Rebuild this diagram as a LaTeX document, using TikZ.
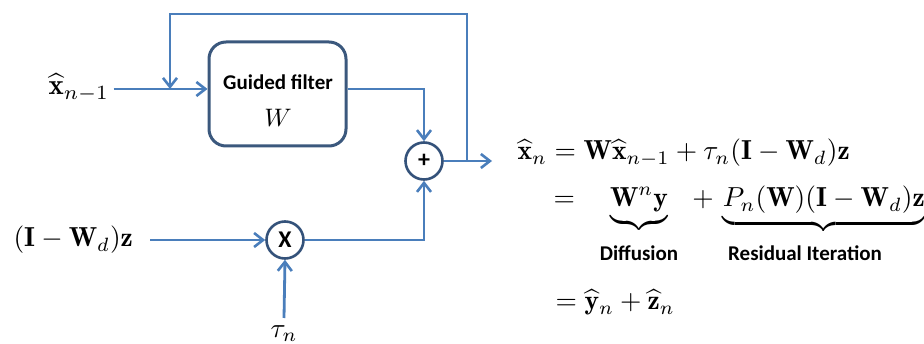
\documentclass[tikz,border=0pt]{standalone}
\usepackage{amsmath}
\usepackage{fontspec}
\newfontfamily\carl{Carlito}
\usetikzlibrary{arrows.meta}
\definecolor{lineblue}{RGB}{74,126,187}
\definecolor{boxcol}{RGB}{59,88,125}
\definecolor{circcol}{RGB}{52,82,122}
\begin{document}
\begin{tikzpicture}[x=1pt,y=-1pt,
  flow/.style={draw=lineblue, line width=2.8pt, -{Straight Barb[length=9pt,width=14pt,line width=2.6pt]}},
  filterbox/.style={draw=boxcol, line width=3pt, rounded corners=17pt, minimum width=137pt, minimum height=104pt, inner sep=0pt},
  op/.style={circle, draw=circcol, line width=2.6pt, minimum size=37pt, inner sep=0pt, font=\carl\bfseries\fontsize{24}{26}\selectfont},
  mth/.style={inner sep=0pt, scale=2.75, transform shape},
  lab/.style={inner sep=0pt, font=\carl\bfseries\fontsize{21}{25}\selectfont}
]
\useasboundingbox (0,0) rectangle (924,344);

% block diagram
\node[filterbox] (gf) at (277.5,94) {};
\node[lab] (gft) at (278,82) {Guided filter};
\node[mth, scale=0.92] (wlab) at (278,118) {$W$};
\node[op] (plus) at (424,161) {+};
\node[op] (times) at (285,240) {X};

\node[mth, scale=1.05, anchor=base west] (xin) at (48,95) {$\widehat{\mathbf{x}}_{n-1}$};
\node[mth, anchor=base west] (zin) at (13,247) {$(\mathbf{I}-\mathbf{W}_d)\mathbf{z}$};
\node[mth, anchor=north] (tau) at (284,325) {$\tau_n$};

\coordinate (inY) at (0,89);
\coordinate (fb) at (170,89);
\coordinate (topY) at (0,14);
\coordinate (j) at (467,161);
\coordinate (out) at (492,161);

\draw[flow] ([xshift=4pt]xin.east |- inY) -- (gf.west |- inY);
\draw[flow] (j) |- (fb |- topY) -- (fb);
\draw[flow] (gf.east |- inY) -| (plus.north);
\draw[flow] (plus.east) -- (out);
\draw[flow] ([xshift=17pt]zin.east |- times.west) -- (times.west);
\draw[flow] (times.east) -| (plus.south);
\draw[flow] ([yshift=7pt]tau.north) -- (times.south);

% equations
\node[mth, anchor=base west] (eq1) at (517,160) {$\widehat{\mathbf{x}}_n=\mathbf{W}\widehat{\mathbf{x}}_{n-1}+\tau_n(\mathbf{I}-\mathbf{W}_d)\mathbf{z}$};
\node[mth, anchor=base west] (eq2) at (553,207) {$=\mkern18mu\underbrace{\mathbf{W}^n\mathbf{y}}\mkern13mu{+}\mkern3mu\underbrace{P_n(\mathbf{W})(\mathbf{I}-\mathbf{W}_d)\mathbf{z}}$};
\node[lab] (diff) at (639,253) {Diffusion};
\node[lab] (resit) at (805,253) {Residual Iteration};
\node[mth, anchor=base west] (eq3) at (555,310) {$=\widehat{\mathbf{y}}_n+\widehat{\mathbf{z}}_n$};
\end{tikzpicture}
\end{document}
